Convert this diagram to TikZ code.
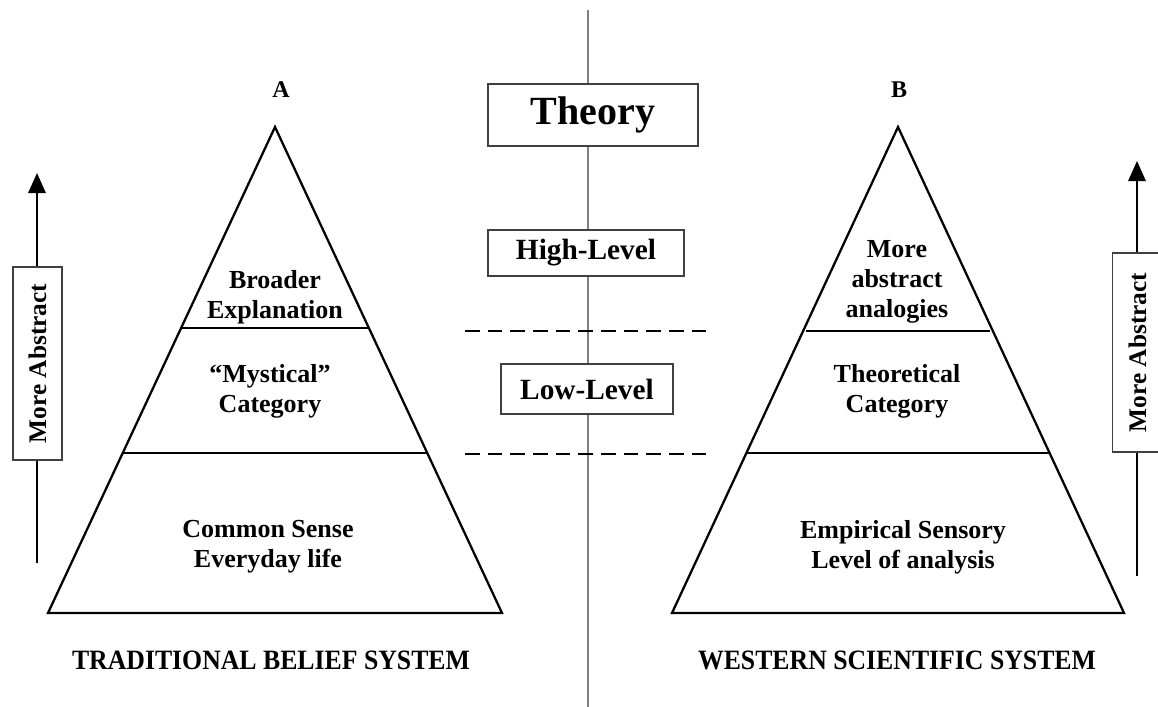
\documentclass[tikz,border=0pt]{standalone}
\usepackage{fontspec}
\setmainfont{Liberation Serif}
\usetikzlibrary{arrows.meta}
\begin{document}
\begin{tikzpicture}[x=0.75pt,y=-0.75pt,
  tri/.style={line width=1.7pt, line join=miter},
  layer/.style={line width=2pt},
  lbl/.style={font=\bfseries\fontsize{19.5}{22.5}\selectfont, align=center, inner sep=0pt},
  letter/.style={font=\bfseries\fontsize{18}{20}\selectfont, inner sep=0pt},
  sysname/.style={font=\bfseries\fontsize{21}{22}\selectfont, inner sep=0pt, xscale=0.92},
  levelbox/.style={draw=black!75, line width=1.2pt, fill=white, inner sep=0pt, font=\bfseries\fontsize{22}{24}\selectfont},
  absbox/.style={draw=black!75, line width=1.2pt, fill=white, inner sep=0pt, rotate=90, font=\bfseries\fontsize{19}{21}\selectfont},
  divider/.style={draw=black!50, line width=1.5pt},
  dashline/.style={line width=2.2pt, dash pattern=on 11pt off 6pt},
  uparrow/.style={line width=1.6pt, -{Triangle[width=13pt,length=15pt]}}
]
\useasboundingbox (0,0) rectangle (1158,707);

% central divider
\coordinate (dtop) at (588,10);
\coordinate (dbot) at (588,707);
\draw[divider] (dtop) -- (dbot);

% left pyramid
\coordinate (LA) at (275,127);
\coordinate (LL) at (48,613);
\coordinate (LR) at (502,613);
\draw[tri] (LA) -- (LL) -- (LR) -- cycle;
\coordinate (L1a) at (182,328);
\coordinate (L1b) at (368,328);
\coordinate (L2a) at (123,453);
\coordinate (L2b) at (427,453);
\draw[layer] (L1a) -- (L1b);
\draw[layer] (L2a) -- (L2b);

% right pyramid
\coordinate (RA) at (898,127);
\coordinate (RL) at (672,613);
\coordinate (RR) at (1124,613);
\draw[tri] (RA) -- (RL) -- (RR) -- cycle;
\coordinate (R1a) at (806,331);
\coordinate (R1b) at (990,331);
\coordinate (R2a) at (747,453);
\coordinate (R2b) at (1049,453);
\draw[layer] (R1a) -- (R1b);
\draw[layer] (R2a) -- (R2b);

% dashed separators
\coordinate (d1a) at (465,331);
\coordinate (d1b) at (712,331);
\coordinate (d2a) at (465,454);
\coordinate (d2b) at (712,454);
\draw[dashline] (d1a) -- (d1b);
\draw[dashline] (d2a) -- (d2b);

% letters
\node[letter] (la) at (281,90) {A};
\node[letter] (lb) at (899,90) {B};

% level boxes
\node[levelbox, minimum width=157.5pt, minimum height=46.5pt, font=\bfseries\fontsize{30}{32}\selectfont] (theory) at (593,115) {Theory};
\node[levelbox, minimum width=147pt, minimum height=34.5pt] (high) at (586,253) {High-Level};
\node[levelbox, minimum width=129pt, minimum height=37.5pt] (low) at (587,389) {Low-Level};

% pyramid texts
\node[lbl] (l1) at (275,297) {Broader\\Explanation};
\node[lbl] (l2) at (270,391) {“Mystical”\\Category};
\node[lbl] (l3) at (268,547) {Common Sense\\Everyday life};
\node[lbl] (r1) at (897,282) {More\\abstract\\analogies};
\node[lbl] (r2) at (897,391) {Theoretical\\Category};
\node[lbl] (r3) at (903,547) {Empirical Sensory\\Level of analysis};

% system names
\node[sysname] (tn) at (271,660) {TRADITIONAL BELIEF SYSTEM};
\node[sysname] (wn) at (897,660) {WESTERN SCIENTIFIC SYSTEM};

% abstraction arrows
\coordinate (la0) at (37,563);
\coordinate (la1) at (37,173);
\draw[uparrow] (la0) -- (la1);
\node[absbox, minimum width=144.75pt, minimum height=36.75pt] (labs) at (37.5,363.5) {More Abstract};

\coordinate (ra0) at (1137,576);
\coordinate (ra1) at (1137,161);
\draw[uparrow] (ra0) -- (ra1);
\node[absbox, minimum width=149.25pt, minimum height=37.5pt] (rabs) at (1137.5,352.5) {More Abstract};
\end{tikzpicture}
\end{document}
